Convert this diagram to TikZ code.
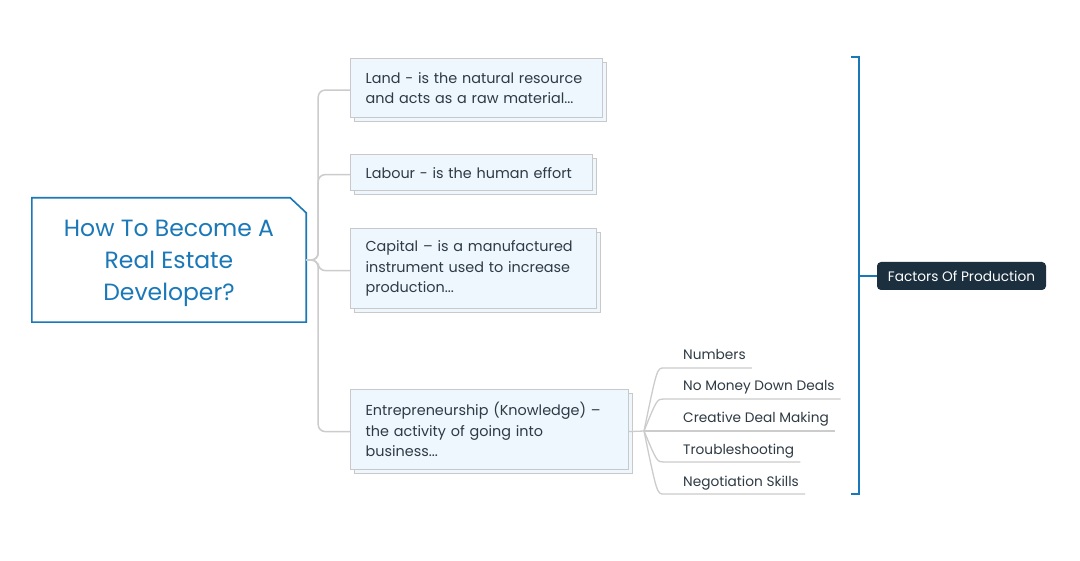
\documentclass[tikz,border=0pt]{standalone}
\usepackage{fontspec}
\setmainfont{Poppins}
\usetikzlibrary{shadows,calc}
\definecolor{bblue}{HTML}{1A78B8}
\definecolor{tfill}{HTML}{EEF7FE}
\definecolor{tborder}{HTML}{C9C9C9}
\definecolor{ttext}{HTML}{2E3A44}
\definecolor{lgray}{HTML}{CCCCCC}
\definecolor{dark}{HTML}{1B2F3E}
\tikzset{
  topic/.style={draw=tborder, fill=tfill, line width=1.2pt, anchor=north west,
    inner xsep=15pt, inner ysep=0pt, align=left, text=ttext,
    font=\fontsize{14.4}{20.5}\selectfont,
    copy shadow={shadow xshift=4pt, shadow yshift=-4pt}},
  conn/.style={draw=lgray, line width=1.5pt, rounded corners=7pt},
  sub/.style={inner sep=0pt, anchor=base west, text=ttext, font=\fontsize{13.7}{16}\selectfont},
  subline/.style={draw=lgray, line width=1.3pt},
}
\begin{document}
\begin{tikzpicture}[x=1pt,y=-1pt]
\useasboundingbox[fill=white] (0,0) rectangle (1080,561);
% root
\node[minimum width=274pt, minimum height=124pt, inner sep=0pt, align=center,
  text=bblue, font=\fontsize{23.5}{32}\selectfont] (root) at (169,263)
  {How To Become A\\Real Estate\\Developer?};
\draw[bblue, line width=1.6pt] ([yshift=3pt]root.south west) -- ([yshift=3pt]root.north west)
  -- ([shift={(-16pt,3pt)}]root.north east) -- ([yshift=-12pt]root.north east)
  -- ([yshift=3pt]root.south east) -- cycle;
\coordinate (rootout) at ([yshift=3pt]root.east);
% topics
\node[topic, minimum width=252pt, minimum height=59pt, text width=222pt] (land) at (350,58)
  {Land - is the natural resource\\and acts as a raw material...};
\node[topic, minimum width=242pt, minimum height=36pt, text width=212pt] (labour) at (350,154)
  {Labour - is the human effort};
\node[topic, minimum width=246pt, minimum height=80pt, text width=216pt] (capital) at (350,228)
  {Capital – is a manufactured\\instrument used to increase\\production...};
\node[topic, minimum width=278pt, minimum height=80pt, text width=248pt] (entre) at (350,389)
  {Entrepreneurship (Knowledge) –\\the activity of going into\\business...};
% connectors
\foreach \t in {land,labour,capital,entre}
  \draw[conn] (rootout) -- ++(12,0) |- ([yshift=-2pt]\t.west);
% subtopics
\coordinate (fan) at (644,431);
\draw[subline] ([yshift=-2pt]entre.east) -- (fan);
\node[sub] (s1) at (683,360) {Numbers};
\node[sub] (s2) at (683,391) {No Money Down Deals};
\node[sub] (s3) at (683,423) {Creative Deal Making};
\node[sub] (s4) at (683,454) {Troubleshooting};
\node[sub] (s5) at (683,486) {Negotiation Skills};
\foreach \s in {s1,s2,s3,s4,s5}
  \draw[subline] (fan) .. controls ($(\s.base west)+(-26,8)$) .. ($(\s.base west)+(-19,8)$)
    -- ($(\s.base east)+(6,8)$);
% bracket
\node[fill=dark, rounded corners=4pt, minimum width=169pt, minimum height=28pt, inner sep=0pt,
  text=white, font=\fontsize{13.7}{16}\selectfont] (fop) at (961.5,276) {Factors Of Production};
\draw[bblue, line width=1.6pt] (851,57) -- (859,57) -- (859,494) -- (851,494);
\draw[bblue, line width=1.6pt] (859,276) -- (fop.west);
\end{tikzpicture}
\end{document}
